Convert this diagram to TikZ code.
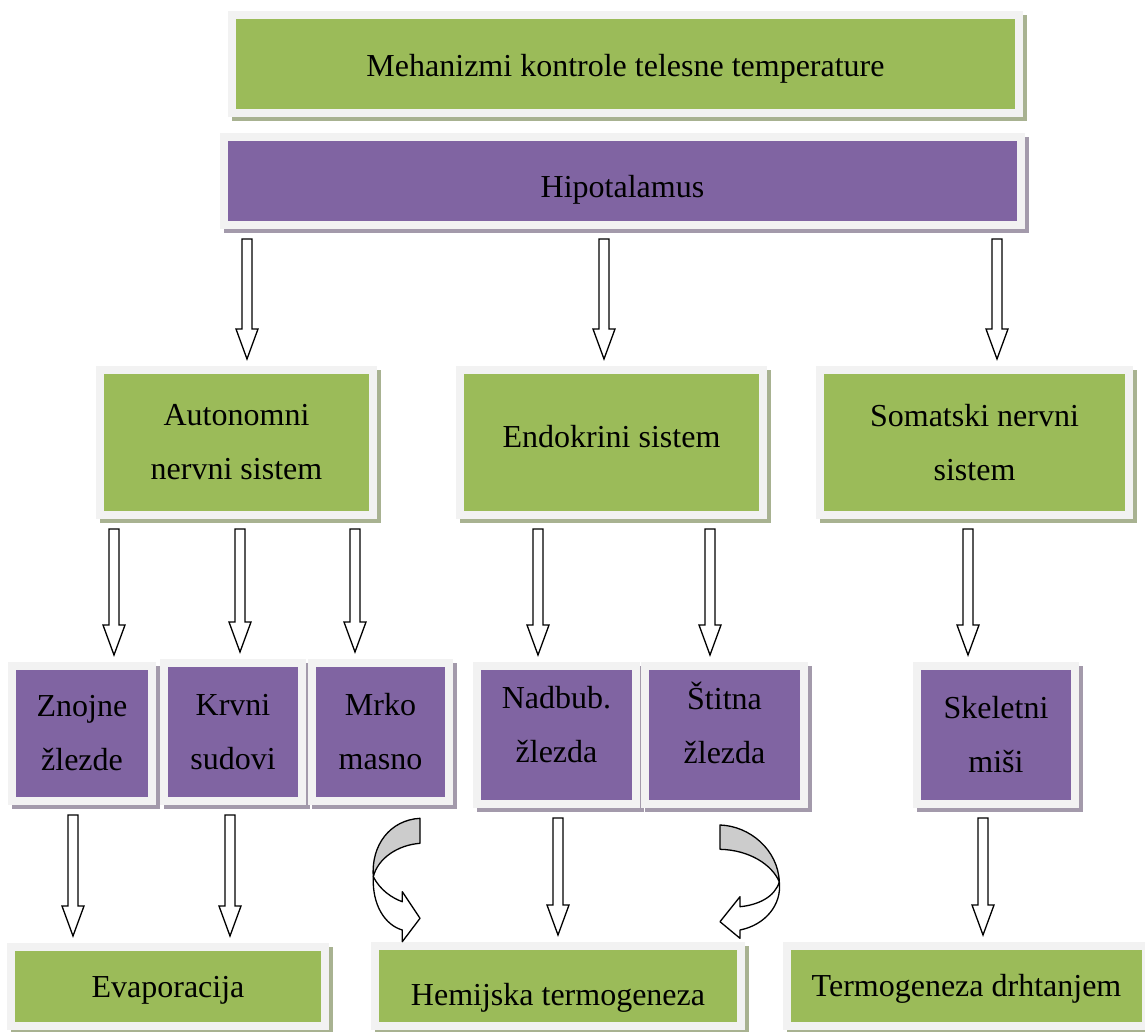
\documentclass[tikz,border=0pt]{standalone}
\usepackage{fontspec}
\setmainfont{Liberation Serif}
\usetikzlibrary{calc}
\definecolor{boxgreen}{HTML}{9BBB59}
\definecolor{boxpurple}{HTML}{8064A2}
\definecolor{boxframe}{HTML}{F2F2F2}
\definecolor{greenshadow}{HTML}{A8B291}
\definecolor{purpleshadow}{HTML}{A39AAB}
\definecolor{bendgray}{HTML}{CCCCCC}
\tikzset{
  box/.style={draw=boxframe, line width=8pt, inner sep=0pt, align=center,
    font=\fontsize{32}{54}\selectfont},
  greenbox/.style={box, fill=boxgreen, preaction={draw=greenshadow, fill=greenshadow,
    line width=8pt, transform canvas={shift={(4pt,-4pt)}}}},
  purplebox/.style={box, fill=boxpurple, preaction={draw=purpleshadow, fill=purpleshadow,
    line width=8pt, transform canvas={shift={(4pt,-4pt)}}}},
  blockarrow/.style={draw=black, fill=white, line width=1.3pt},
  bendarrow/.style={draw=black, line width=1.3pt, line join=round}
}
% hollow down arrow: x position, from node, to node
\newcommand{\blockarr}[3]{%
  \draw[blockarrow] let \p1=(#2.south), \p2=(#3.north) in
    (#1pt-5pt,\y1-10pt) -- (#1pt+5pt,\y1-10pt) -- (#1pt+5pt,\y2+37pt) -- (#1pt+11pt,\y2+37pt)
    -- (#1pt,\y2+7pt) -- (#1pt-11pt,\y2+37pt) -- (#1pt-5pt,\y2+37pt) -- cycle;}
\begin{document}
\begin{tikzpicture}[x=1pt,y=-1pt]
\useasboundingbox (0,0) rectangle (1145,1032);

\node[greenbox, minimum width=787pt, minimum height=98pt, text height=32pt] (title) at (625.5,64) {Mehanizmi kontrole telesne temperature};
\node[purplebox, minimum width=797pt, minimum height=88pt, text height=40pt] (hipo) at (622.5,181) {Hipotalamus};

\node[greenbox, minimum width=273pt, minimum height=145pt] (auto) at (236.5,442.5) {Autonomni\\nervni sistem};
\node[greenbox, minimum width=303pt, minimum height=145pt, text depth=12pt] (endo) at (611.5,442.5) {Endokrini sistem};
\node[greenbox, minimum width=309pt, minimum height=145pt] (soma) at (974.5,442.5) {Somatski nervni\\sistem};

\node[purplebox, minimum width=140pt, minimum height=135pt] (znoj) at (82,733.5) {Znojne\\žlezde};
\node[purplebox, minimum width=138pt, minimum height=138pt] (krvn) at (233,732) {Krvni\\sudovi};
\node[purplebox, minimum width=137pt, minimum height=138pt] (mrko) at (380.5,732) {Mrko\\masno};
\node[purplebox, minimum width=159pt, minimum height=138pt, text depth=22pt] (nadb) at (556.5,735) {Nadbub.\\žlezda};
\node[purplebox, minimum width=159pt, minimum height=138pt, text depth=24pt] (stit) at (724.5,735) {Štitna\\žlezda};
\node[purplebox, minimum width=158pt, minimum height=138pt] (skel) at (996,735) {Skeletni\\miši};

\node[greenbox, minimum width=314pt, minimum height=79pt, text height=28pt] (evap) at (168,986.5) {Evaporacija};
\node[greenbox, minimum width=366pt, minimum height=80pt, text height=46pt] (hemi) at (558,986) {Hemijska termogeneza};
\node[greenbox, minimum width=359pt, minimum height=80pt, text height=28pt] (term) at (966.5,986) {Termogeneza drhtanjem};

\blockarr{247}{hipo}{auto}
\blockarr{604}{hipo}{endo}
\blockarr{997}{hipo}{soma}
\blockarr{114}{auto}{znoj}
\blockarr{240}{auto}{krvn}
\blockarr{355}{auto}{mrko}
\blockarr{538}{endo}{nadb}
\blockarr{710}{endo}{stit}
\blockarr{968}{soma}{skel}
\blockarr{73}{znoj}{evap}
\blockarr{230}{krvn}{evap}
\blockarr{558}{nadb}{hemi}
\blockarr{983}{skel}{term}

\draw[bendarrow, fill=bendgray] (420,818.3) -- (420,843.3) .. controls (398,845) and (378,858) .. (373.3,876.7)
  .. controls (371,845) and (390,820) .. (420,818.3) -- cycle;
\draw[bendarrow, fill=white] (373.3,876.7) .. controls (380,890) and (392,898) .. (402.3,901.7) -- (402.3,891.7)
  -- (420,918.3) -- (402.3,941.7) -- (402.3,930) .. controls (385,925) and (372,905) .. (373.3,876.7) -- cycle;
\draw[bendarrow, fill=bendgray] (720,825) -- (720,849.3) .. controls (750,850) and (772,865) .. (779.3,881.7)
  .. controls (778,850) and (750,826) .. (720,825) -- cycle;
\draw[bendarrow, fill=white] (779.3,881.7) .. controls (775,897) and (758,905) .. (740,906.7) -- (740,896.7)
  -- (720,921.7) -- (740,938.3) -- (740,930) .. controls (765,925) and (782,905) .. (779.3,881.7) -- cycle;
\end{tikzpicture}
\end{document}
